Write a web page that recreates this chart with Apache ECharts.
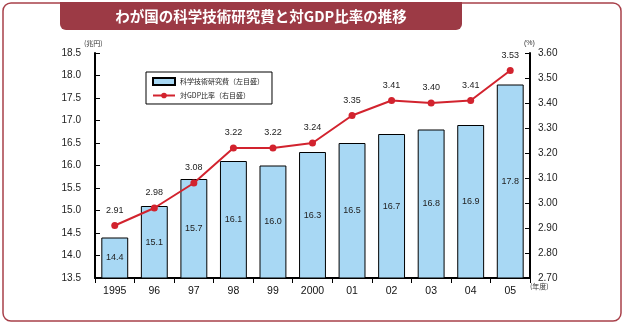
<!DOCTYPE html>
<html><head><meta charset="utf-8">
<script src="https://cdn.jsdelivr.net/npm/echarts@6/dist/echarts.min.js"></script>
<style>html,body{margin:0;padding:0;background:#fff}#c{width:625px;height:327px}</style>
</head><body><div id="c"></div>
<script>
const categories = ['1995','96','97','98','99','2000','01','02','03','04','05'];
const researchCost = [14.4,15.1,15.7,16.1,16.0,16.3,16.5,16.7,16.8,16.9,17.8];
const gdpRatio = [2.91,2.98,3.08,3.22,3.22,3.24,3.35,3.41,3.40,3.41,3.53];
const titleText = 'わが国の科学技術研究費と対GDP比率の推移';
const seriesNames = ['科学技術研究費（左目盛）','対GDP比率（右目盛）'];

const chart = echarts.init(document.getElementById('c'));
const FONT = '"Liberation Sans","Noto Sans CJK JP",sans-serif';
const JFONT = '"Noto Sans CJK JP",sans-serif';
chart.setOption({
  animation:false,
  textStyle:{fontFamily:FONT},
  graphic:[
    {type:'rect',shape:{x:3,y:3,width:618,height:318,r:8},style:{fill:'none',stroke:'#a8404a',lineWidth:1.5},z:0},
    {type:'rect',shape:{x:60,y:2,width:402,height:28,r:[0,0,6,6]},style:{fill:'#9c3a45'},z:1},
    {type:'text',x:261,y:16,style:{text:titleText,fill:'#fff',font:'bold 14.5px '+JFONT,align:'center',verticalAlign:'middle'},z:2},
    {type:'text',x:84,y:40,style:{text:'(兆円)',fill:'#333',font:'7px '+JFONT},z:2},
    {type:'text',x:524,y:40,style:{text:'(%)',fill:'#333',font:'7px '+FONT},z:2},
    {type:'text',x:530,y:283,style:{text:'(年度)',fill:'#333',font:'7px '+JFONT},z:2}
  ],
  legend:{
    orient:'vertical',left:146,top:72,itemWidth:22,itemHeight:7,itemGap:6,
    padding:[5,8,5,6],borderColor:'#000',borderWidth:1,backgroundColor:'#fff',
    textStyle:{fontSize:7,color:'#222',fontFamily:JFONT},
    data:[{name:seriesNames[0],icon:'rect'},{name:seriesNames[1]}]
  },
  grid:{left:95,right:95,top:53,bottom:49},
  xAxis:{
    type:'category',data:categories,
    axisLine:{lineStyle:{color:'#000',width:2}},
    axisTick:{show:true,inside:false,length:5,lineStyle:{color:'#000'}},
    axisLabel:{color:'#111',fontSize:10.5,margin:8}
  },
  yAxis:[
    {type:'value',min:13.5,max:18.5,interval:0.5,position:'left',
     axisLine:{show:true,lineStyle:{color:'#000',width:2}},
     axisTick:{show:true,inside:true,length:5,lineStyle:{color:'#000'}},
     splitLine:{show:false},
     axisLabel:{color:'#222',fontSize:10,margin:14,formatter:v=>v.toFixed(1)}},
    {type:'value',min:2.7,max:3.6,interval:0.1,position:'right',
     axisLine:{show:true,lineStyle:{color:'#000',width:2}},
     axisTick:{show:true,inside:true,length:5,lineStyle:{color:'#000'}},
     splitLine:{show:false},
     axisLabel:{color:'#222',fontSize:10,margin:8,formatter:v=>v.toFixed(2)}}
  ],
  series:[
    {name:seriesNames[0],type:'bar',data:researchCost,yAxisIndex:0,barWidth:'68%',
     itemStyle:{color:'#a8d8f4',borderColor:'#000',borderWidth:1},
     label:{show:true,position:'inside',color:'#222',fontSize:9,formatter:p=>p.value.toFixed(1)}},
    {name:seriesNames[1],type:'line',data:gdpRatio,yAxisIndex:1,
     symbol:'circle',symbolSize:7,
     lineStyle:{color:'#d2232e',width:2},itemStyle:{color:'#d2232e'},
     label:{show:true,position:'top',distance:7,color:'#222',fontSize:9,formatter:p=>p.value.toFixed(2)},z:5}
  ]
});
</script></body></html>
